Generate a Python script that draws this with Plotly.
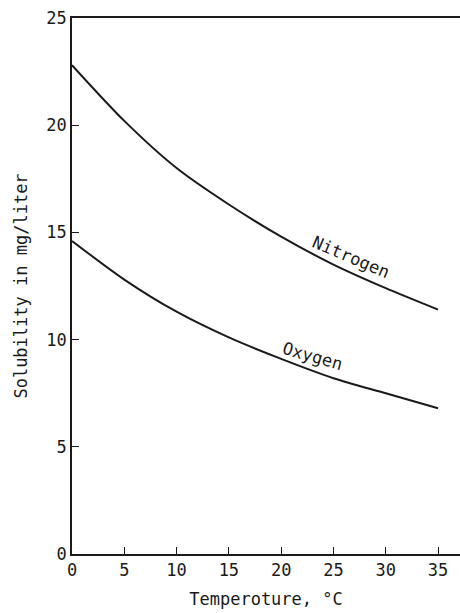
import plotly.graph_objects as go

temperature = [0, 5, 10, 15, 20, 25, 30, 35]
nitrogen = [22.8, 20.2, 18.0, 16.3, 14.8, 13.5, 12.4, 11.4]
oxygen = [14.6, 12.8, 11.3, 10.1, 9.1, 8.2, 7.5, 6.8]

x_ticks = [0, 5, 10, 15, 20, 25, 30, 35]
y_ticks = [0, 5, 10, 15, 20, 25]

FONT = "DejaVu Sans Mono"
INK = "#1a1a1a"

fig = go.Figure()
fig.add_trace(go.Scatter(x=temperature, y=nitrogen, mode="lines", name="Nitrogen",
                         line=dict(color=INK, width=2, shape="spline", smoothing=0.8)))
fig.add_trace(go.Scatter(x=temperature, y=oxygen, mode="lines", name="Oxygen",
                         line=dict(color=INK, width=2, shape="spline", smoothing=0.8)))

fig.add_annotation(x=26.7, y=13.85, text="Nitrogen", showarrow=False, textangle=23,
                   font=dict(family=FONT, size=17, color=INK))
fig.add_annotation(x=23.0, y=9.25, text="Oxygen", showarrow=False, textangle=16,
                   font=dict(family=FONT, size=17, color=INK))

fig.update_layout(
    width=460, height=613,
    margin=dict(l=72, r=0, t=18, b=59),
    paper_bgcolor="white", plot_bgcolor="white",
    showlegend=False,
    font=dict(family=FONT, size=16, color=INK),
    xaxis=dict(range=[0, 37.1], tickvals=x_ticks, ticks="inside", ticklen=7,
               tickcolor=INK, showline=True, linecolor=INK, linewidth=1.5,
               mirror=True, showgrid=False, zeroline=False,
               title=dict(text="Temperoture, °C", standoff=14,
                          font=dict(family=FONT, size=17)),
               tickfont=dict(family=FONT, size=17)),
    yaxis=dict(range=[0, 25], tickvals=y_ticks, ticks="inside", ticklen=7,
               tickcolor=INK, showline=True, linecolor=INK, linewidth=1.5,
               showgrid=False, zeroline=False,
               title=dict(text="Solubility in mg/liter", standoff=14,
                          font=dict(family=FONT, size=17)),
               tickfont=dict(family=FONT, size=17)),
)

fig.write_html("out.html")
